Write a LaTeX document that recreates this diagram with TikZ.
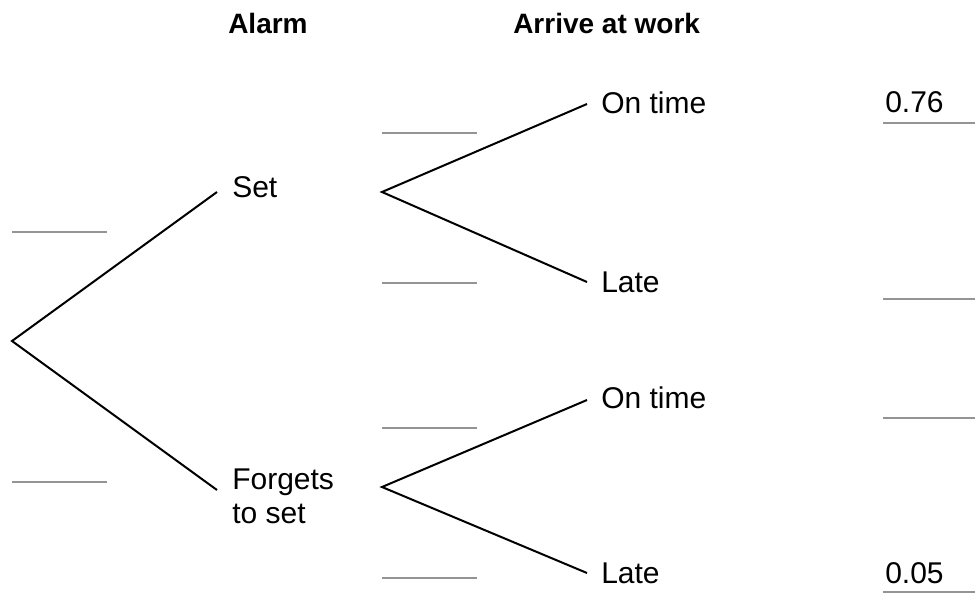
\documentclass[tikz,border=0pt]{standalone}
\usepackage{fontspec}
\setmainfont{Liberation Sans}
\begin{document}
\begin{tikzpicture}[x=0.75pt,y=-0.75pt,
  branch/.style={line width=1.5pt,black},
  blank/.style={line width=1.8pt,color=black!42},
  lbl/.style={anchor=base west,inner sep=0pt,font=\fontsize{22.5}{25.5}\selectfont},
  head/.style={anchor=base west,inner sep=0pt,font=\fontsize{21}{25}\selectfont\bfseries}]
\useasboundingbox (0,0) rectangle (975,594);
% headings
\node[head] (halarm) at (228,33) {Alarm};
\node[head] (harrive) at (513,33) {Arrive at work};
% labels
\node[lbl] (set) at (232,197) {Set};
\node[lbl,align=left] (forgets) at (232,523) {Forgets\\to set};
\node[lbl] (ot1) at (601,113) {On time};
\node[lbl] (late1) at (601,292) {Late};
\node[lbl] (ot2) at (601,408) {On time};
\node[lbl] (late2) at (601,583) {Late};
\node[lbl] (p1) at (885,112) {0.76};
\node[lbl] (p4) at (885,583) {0.05};
% tree coordinates
\coordinate (root) at (12,341);
\coordinate (setend) at (217,192);
\coordinate (fgend) at (217,490);
\coordinate (setfork) at (382,192);
\coordinate (fgfork) at (382,487);
\coordinate (ot1end) at (587,104);
\coordinate (late1end) at (587,282);
\coordinate (ot2end) at (587,400);
\coordinate (late2end) at (587,573);
\draw[branch,line join=miter] (setend) -- (root) -- (fgend);
\draw[branch] (ot1end) -- (setfork) -- (late1end);
\draw[branch] (ot2end) -- (fgfork) -- (late2end);
% answer blanks
\coordinate (b1a) at (12,232);   \coordinate (b1b) at (107,232);
\coordinate (b2a) at (12,482);   \coordinate (b2b) at (107,482);
\coordinate (b3a) at (382,133);  \coordinate (b3b) at (477,133);
\coordinate (b4a) at (382,283);  \coordinate (b4b) at (477,283);
\coordinate (b5a) at (382,428);  \coordinate (b5b) at (477,428);
\coordinate (b6a) at (382,578);  \coordinate (b6b) at (477,578);
\coordinate (b7a) at (883,123);  \coordinate (b7b) at (975,123);
\coordinate (b8a) at (883,299);  \coordinate (b8b) at (975,299);
\coordinate (b9a) at (883,418);  \coordinate (b9b) at (975,418);
\coordinate (b10a) at (883,592); \coordinate (b10b) at (975,592);
\foreach \i in {1,...,10} {\draw[blank] (b\i a) -- (b\i b);}
\end{tikzpicture}
\end{document}
